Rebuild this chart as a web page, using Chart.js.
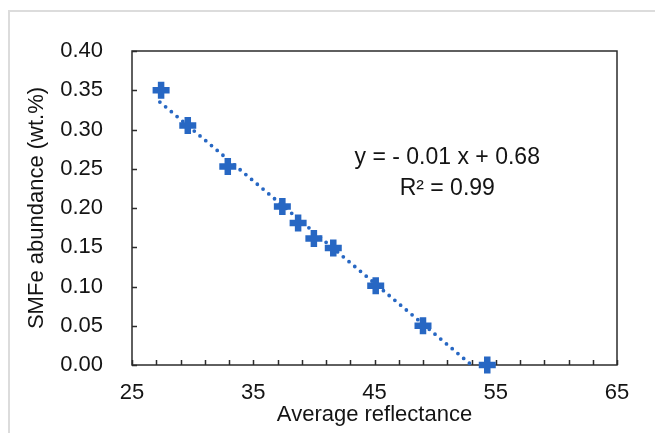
<!DOCTYPE html>
<html>
<head>
<meta charset="utf-8">
<script src="https://cdn.jsdelivr.net/npm/chart.js@4.4.1/dist/chart.umd.min.js"></script>
<style>
  html, body { margin: 0; padding: 0; background: #fff; overflow: hidden; }
  #wrap { position: relative; width: 655px; height: 433px; }
</style>
</head>
<body>
<div id="wrap"><canvas id="chart" width="655" height="433"></canvas></div>
<script>
// ── Data ────────────────────────────────────────────────────────────────────
const REFLECTANCE = [27.4, 29.6, 32.9, 37.4, 38.7, 40.0, 41.6, 45.1, 49.0, 54.3];
const SMFE        = [0.350, 0.305, 0.253, 0.202, 0.181, 0.161, 0.149, 0.101, 0.050, 0.000];
const TREND_X     = [27.3, 53.0];
const TREND_Y     = [0.335, 0.000];
const X_LABELS    = [25, 35, 45, 55, 65];
const EQUATION    = ['y = - 0.01 x + 0.68', 'R² = 0.99'];

const BLUE = '#2767c3';
const TEXT = '#141414';
const FONT = "'Liberation Sans', Arial, sans-serif";

Chart.defaults.font.family = FONT;
Chart.defaults.color = TEXT;

// ── Outer frame, plot box, inward tick marks, equation ─────────────────────
const framePlugin = {
  id: 'frame',
  beforeDraw(chart) {
    const ctx = chart.ctx;
    ctx.save();
    ctx.strokeStyle = '#dcdcdc';
    ctx.lineWidth = 2;
    ctx.strokeRect(9, 11, 700, 500);
    ctx.restore();
  },
  beforeDatasetsDraw(chart) {
    const { ctx, chartArea: a, scales: { x, y } } = chart;
    ctx.save();
    ctx.strokeStyle = '#2b2b2b';
    ctx.lineWidth = 1.5;
    ctx.beginPath();
    x.ticks.forEach(t => {
      const px = Math.round(x.getPixelForValue(t.value)) + 0.5;
      ctx.moveTo(px, a.bottom);
      ctx.lineTo(px, a.bottom - 5);
    });
    y.ticks.forEach(t => {
      const py = Math.round(y.getPixelForValue(t.value)) + 0.5;
      ctx.moveTo(a.left, py);
      ctx.lineTo(a.left + 5, py);
    });
    ctx.stroke();
    ctx.strokeRect(a.left, a.top, a.right - a.left, a.bottom - a.top);
    ctx.restore();
  },
  afterDatasetsDraw(chart) {
    const { ctx, scales: { x, y } } = chart;
    ctx.save();
    ctx.fillStyle = TEXT;
    ctx.font = '23px ' + FONT;
    ctx.textAlign = 'center';
    ctx.textBaseline = 'middle';
    ctx.fillText(EQUATION[0], x.getPixelForValue(51.0), y.getPixelForValue(0.264));
    ctx.fillText(EQUATION[1], x.getPixelForValue(51.0), y.getPixelForValue(0.225));
    ctx.restore();
  }
};

new Chart(document.getElementById('chart'), {
  type: 'scatter',
  data: {
    datasets: [
      {
        label: 'SMFe',
        data: REFLECTANCE.map((v, i) => ({ x: v, y: SMFE[i] })),
        pointStyle: 'cross',
        pointRadius: 8.5,
        pointBorderWidth: 6.5,
        borderColor: BLUE,
        backgroundColor: BLUE,
        clip: false,
        order: 1
      },
      {
        label: 'Trend',
        type: 'line',
        data: TREND_X.map((v, i) => ({ x: v, y: TREND_Y[i] })),
        showLine: true,
        pointRadius: 0,
        borderColor: BLUE,
        borderWidth: 3.8,
        borderDash: [0, 7.5],
        borderCapStyle: 'round',
        fill: false,
        clip: false,
        order: 2
      }
    ]
  },
  options: {
    responsive: false,
    animation: false,
    devicePixelRatio: 1,
    events: [],
    layout: { padding: { top: 51, right: 38, bottom: 0, left: 0 } },
    plugins: { legend: { display: false }, tooltip: { enabled: false } },
    scales: {
      x: {
        type: 'linear',
        min: 25,
        max: 65,
        grid: { display: false, drawTicks: false },
        border: { display: false },
        ticks: {
          stepSize: 2,
          autoSkip: false,
          maxRotation: 0,
          padding: 15,
          font: { size: 22 },
          callback: v => X_LABELS.includes(Math.round(v)) ? String(Math.round(v)) : ''
        },
        title: {
          display: true,
          text: 'Average reflectance',
          font: { size: 22 },
          padding: { top: 0, bottom: 5 }
        },
        afterFit: s => { s.height = 68; }
      },
      y: {
        type: 'linear',
        min: 0,
        max: 0.4,
        grid: { display: false, drawTicks: false },
        border: { display: false },
        ticks: {
          stepSize: 0.05,
          padding: 29,
          font: { size: 22 },
          callback: v => Number(v).toFixed(2)
        },
        title: {
          display: true,
          text: 'SMFe abundance (wt.%)',
          font: { size: 22 },
          padding: { top: 24, bottom: 0 }
        },
        afterFit: s => { s.width = 132; }
      }
    }
  },
  plugins: [framePlugin]
});
</script>
</body>
</html>
